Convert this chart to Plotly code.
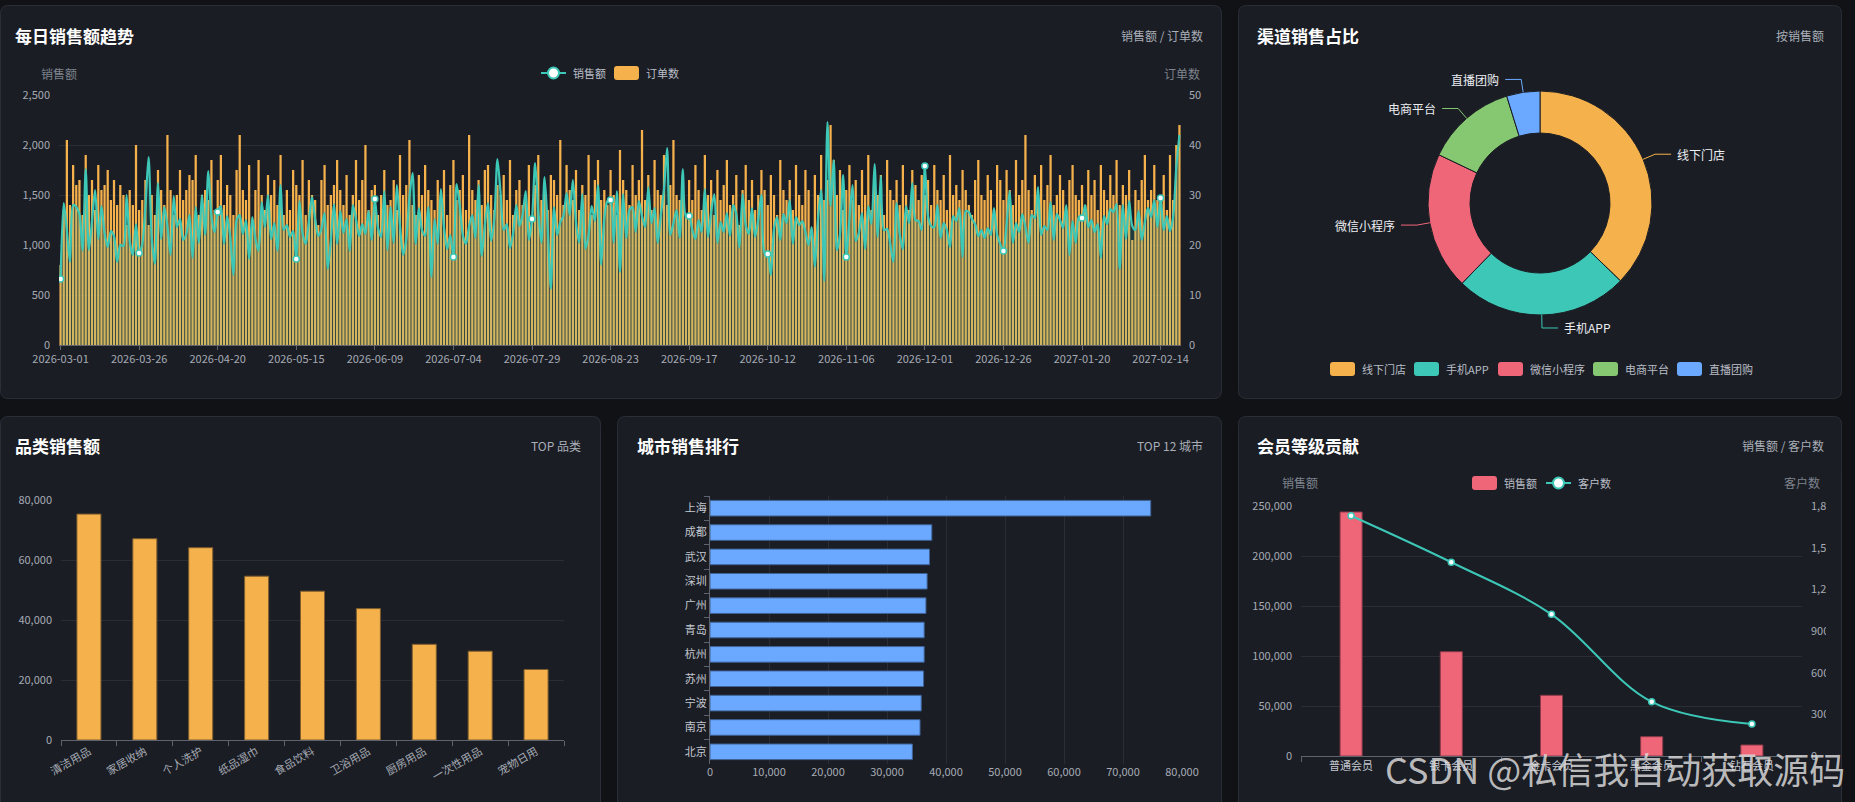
import math

import pandas as pd
import plotly.graph_objects as go

W, H = 1855, 802
FONT = "Noto Sans CJK SC"

BG = "#111216"
PANEL = "#1a1d24"
BORDER = "#2a2e37"
GRID = "#2a2d34"
AXIS = "#5f636d"
TICK = "#a6abb5"
MUTED = "#7e838d"
SUB = "#a9aeb8"

ORANGE = "#f4b14c"
TEAL = "#3dc7b7"
RED = "#ef6679"
GREEN = "#86c871"
BLUE = "#6aa9ff"

# ---- data ----
start_date = "2026-03-01"

order_counts = [
    16, 27, 41, 28, 36, 32, 33, 26, 38, 30, 33, 27, 36, 31, 32, 35, 29, 33, 28, 32, 30, 24, 31, 28, 40,
    27, 29, 33, 24, 30, 26, 35, 31, 28, 42, 31, 26, 30, 35, 29, 31, 34, 33, 38, 26, 30, 31, 29, 37, 27,
    33, 38, 28, 32, 30, 26, 35, 42, 31, 29, 36, 25, 31, 37, 30, 27, 34, 30, 33, 28, 38, 26, 31, 27, 35,
    32, 30, 37, 26, 33, 30, 29, 24, 33, 36, 28, 30, 32, 37, 31, 28, 34, 26, 30, 37, 29, 33, 40, 27, 31,
    32, 26, 30, 35, 28, 29, 33, 27, 38, 30, 32, 41, 28, 26, 34, 30, 36, 31, 29, 27, 33, 30, 35, 26, 32,
    37, 29, 31, 34, 27, 42, 31, 29, 33, 28, 35, 36, 30, 27, 32, 30, 34, 29, 37, 26, 31, 33, 28, 30, 36,
    25, 32, 38, 29, 31, 27, 34, 33, 30, 41, 28, 36, 31, 29, 35, 27, 32, 30, 38, 26, 33, 37, 29, 31, 28,
    35, 30, 26, 39, 33, 31, 28, 36, 30, 33, 43, 29, 34, 27, 37, 31, 30, 38, 28, 32, 41, 30, 29, 34, 26,
    33, 29, 36, 31, 27, 38, 30, 33, 26, 35, 29, 32, 37, 28, 30, 34, 24, 31, 36, 29, 33, 27, 30, 35, 31,
    28, 34, 30, 26, 37, 31, 29, 33, 27, 36, 30, 28, 35, 31, 22, 34, 30, 38, 29, 33, 44, 37, 30, 35, 27,
    31, 36, 29, 33, 28, 35, 30, 38, 27, 32, 30, 34, 26, 37, 31, 29, 33, 28, 36, 30, 27, 35, 32, 29, 34,
    30, 33, 28, 36, 31, 29, 34, 27, 38, 30, 32, 29, 35, 31, 28, 26, 33, 37, 30, 29, 34, 31, 27, 36, 33,
    29, 35, 31, 28, 37, 30, 33, 42, 31, 27, 34, 30, 36, 29, 32, 38, 28, 30, 34, 31, 27, 33, 36, 30, 29,
    32, 28, 35, 30, 33, 27, 36, 31, 29, 34, 30, 37, 28, 32, 30, 35, 21, 31, 29, 33, 38, 29, 31, 36, 29,
    30, 34, 27, 38, 29, 40, 44,
]

daily_sales = [
    660, 1420, 1150, 830, 1400, 1380, 1310, 940, 1760, 950, 1240, 1550, 1060, 1390, 1120, 980, 1140, 1090, 830, 1000, 990, 1500, 1040, 900, 1210,
    920, 1010, 1390, 1880, 1080, 810, 1620, 1060, 1380, 1190, 900, 1490, 1180, 1260, 1050, 1110, 1300, 870, 1380, 1020, 1500, 1100, 1740, 1290, 1130,
    1330, 1390, 1010, 1290, 1080, 700, 1250, 1300, 1110, 1250, 860, 1280, 1060, 940, 1430, 1180, 1500, 1060, 1220, 940, 1600, 1150, 1200, 1080, 1140,
    860, 1440, 1120, 1010, 1230, 1480, 1260, 1090, 1160, 1320, 760, 1050, 1410, 1010, 1340, 1120, 1260, 940, 1400, 1260, 1090, 1210, 1110, 1340, 1050,
    1460, 1170, 1080, 1540, 950, 1380, 1020, 1600, 1190, 900, 1060, 1480, 1720, 1010, 1370, 1150, 1090, 1380, 680, 1260, 1010, 1560, 1180, 960, 1100,
    880, 1610, 1400, 1100, 1010, 1190, 1300, 1070, 1600, 890, 1200, 1420, 1040, 1260, 1860, 1520, 1150, 1210, 970, 1120, 1400, 1190, 1300, 1540, 1050,
    1260, 1820, 1340, 1020, 1680, 1180, 560, 1380, 1100, 1230, 1290, 1520, 1300, 1650, 1230, 1020, 1510, 960, 1100, 1390, 1240, 1600, 800, 1260, 1440,
    1450, 1020, 1540, 730, 1510, 1070, 1350, 1380, 1130, 1440, 1290, 1180, 1580, 1220, 1370, 1020, 1300, 1560, 1970, 1100, 1220, 1350, 1070, 1760, 1280,
    1290, 1150, 1060, 1250, 1130, 1560, 1080, 1330, 1510, 1020, 1230, 1130, 1320, 1090, 1400, 1310, 970, 1510, 1200, 1110, 1370, 1080, 1260, 1500, 920,
    910, 700, 1160, 1280, 1050, 1310, 1220, 1450, 1010, 1280, 1200, 1240, 1130, 1000, 1180, 780, 1260, 1550, 640, 2230, 1390, 1850, 950, 1110, 1700,
    880, 1260, 1600, 1040, 1120, 1320, 960, 1390, 1210, 1810, 1080, 1690, 1150, 1160, 1010, 830, 1420, 1110, 960, 1390, 1220, 1620, 1250, 1240, 1150,
    1790, 1290, 1190, 1180, 1400, 1070, 1220, 1150, 980, 1290, 1240, 1370, 880, 1340, 1330, 1260, 1210, 1090, 1150, 1070, 1170, 1100, 1370, 1100, 1010,
    940, 1210, 1540, 1020, 1220, 1130, 1310, 1180, 1020, 1300, 1270, 1580, 1100, 1190, 1150, 1430, 1050, 1310, 1250, 1170, 1400, 900, 1240, 1020, 1280,
    1270, 1400, 1180, 1250, 1130, 1210, 870, 1290, 1210, 1360, 1330, 1410, 760, 1400, 1060, 1440, 1190, 1150, 1340, 1050, 1230, 1370, 1280, 1450, 1180,
    1470, 1150, 1290, 1140, 1280, 1780, 2100,
]

channel_names = ["线下门店", "手机APP", "微信小程序", "电商平台", "直播团购"]
channel_sales = [186000, 125000, 99000, 65500, 24000]
channel_colors = [ORANGE, TEAL, RED, GREEN, BLUE]

category_names = ["清洁用品", "家居收纳", "个人洗护", "纸品湿巾", "食品饮料",
                  "卫浴用品", "厨房用品", "一次性用品", "宠物日用"]
category_sales = [75300, 67100, 64100, 54600, 49600, 43800, 31900, 29600, 23500]

city_names = ["上海", "成都", "武汉", "深圳", "广州", "青岛", "杭州", "苏州", "宁波", "南京", "北京"]
city_sales = [74700, 37600, 37200, 36800, 36600, 36300, 36300, 36200, 35800, 35600, 34300]

member_levels = ["普通会员", "银卡会员", "金卡会员", "黑金会员", "钻石会员"]
member_sales = [244000, 104300, 60700, 19300, 11000]
member_customers = [1730, 1395, 1020, 390, 230]

dates = pd.date_range(start_date, periods=len(order_counts)).strftime("%Y-%m-%d").tolist()
label_step = 25


# ---- pixel helpers ----
def px(x):
    return x / W


def py(y):
    return 1 - y / H


def pt(x, y):
    return f"{px(x):.5f},{py(y):.5f}"


def round_rect(x0, y0, x1, y1, r):
    return (f"M{pt(x0 + r, y0)} L{pt(x1 - r, y0)} Q{pt(x1, y0)} {pt(x1, y0 + r)} "
            f"L{pt(x1, y1 - r)} Q{pt(x1, y1)} {pt(x1 - r, y1)} L{pt(x0 + r, y1)} "
            f"Q{pt(x0, y1)} {pt(x0, y1 - r)} L{pt(x0, y0 + r)} Q{pt(x0, y0)} {pt(x0 + r, y0)} Z")


shapes = []
annotations = []


def panel(x0, y0, x1, y1):
    shapes.append(dict(type="path", xref="paper", yref="paper", path=round_rect(x0, y0, x1, y1, 8),
                       fillcolor=PANEL, line=dict(color=BORDER, width=1), layer="below"))


def text(x, y, s, size=12, color=SUB, anchor="left", bold=False):
    annotations.append(dict(xref="paper", yref="paper", x=px(x), y=py(y), text=f"<b>{s}</b>" if bold else s,
                            showarrow=False, xanchor=anchor, yanchor="middle",
                            font=dict(family=FONT, size=size, color=color)))


def legend_box(x, y, color, label):
    shapes.append(dict(type="path", xref="paper", yref="paper",
                       path=round_rect(x, y - 7, x + 25, y + 7, 3), fillcolor=color,
                       line=dict(width=0), layer="above"))
    text(x + 30, y, label, size=11, color="#b9bdc6")


def legend_line(x, y, color, label):
    shapes.append(dict(type="line", xref="paper", yref="paper", x0=px(x), x1=px(x + 25), y0=py(y), y1=py(y),
                       line=dict(color=color, width=2), layer="above"))
    shapes.append(dict(type="circle", xref="paper", yref="paper", x0=px(x + 7), x1=px(x + 18),
                       y0=py(y + 5.5), y1=py(y - 5.5), fillcolor="#ffffff",
                       line=dict(color=color, width=2), layer="above"))
    text(x + 30, y, label, size=11, color="#b9bdc6")


panel(0.5, 5.5, 1221.5, 398.5)
panel(1238.5, 5.5, 1841.5, 398.5)
panel(0.5, 416.5, 600.5, 812)
panel(617.5, 416.5, 1221.5, 812)
panel(1238.5, 416.5, 1841.5, 812)

# titles
text(13, 35, "每日销售额趋势", 17, "#ffffff", bold=True)
text(1205, 35, "销售额 / 订单数", 12, SUB, "right")
text(1255, 35, "渠道销售占比", 17, "#ffffff", bold=True)
text(1826, 35, "按销售额", 12, SUB, "right")
text(13, 445, "品类销售额", 17, "#ffffff", bold=True)
text(583, 445, "TOP 品类", 12, SUB, "right")
text(635, 445, "城市销售排行", 17, "#ffffff", bold=True)
text(1205, 445, "TOP 12 城市", 12, SUB, "right")
text(1255, 445, "会员等级贡献", 17, "#ffffff", bold=True)
text(1826, 445, "销售额 / 客户数", 12, SUB, "right")

# axis names and legends
text(59, 73, "销售额", 12, MUTED, "center")
text(1182, 73, "订单数", 12, MUTED, "center")
legend_line(541, 73, TEAL, "销售额")
legend_box(614, 73, ORANGE, "订单数")

text(1300, 483, "销售额", 12, MUTED, "center")
text(1802, 483, "客户数", 12, MUTED, "center")
legend_box(1472, 483, RED, "销售额")
legend_line(1546, 483, TEAL, "客户数")

pie_legend_x = [1330, 1414, 1498, 1593, 1677]
for lx, name, color in zip(pie_legend_x, channel_names, channel_colors):
    legend_box(lx, 369, color, name)

# ---- donut with leader labels ----
cx, cy, R = 1540, 203, 112
total = sum(channel_sales)
acc = 0
for name, value, color in zip(channel_names, channel_sales, channel_colors):
    mid = (acc + value / 2) / total * 2 * math.pi
    acc += value
    sx, sy = math.sin(mid), -math.cos(mid)
    x0, y0 = cx + R * sx, cy + R * sy
    x1, y1 = cx + (R + 13) * sx, cy + (R + 13) * sy
    side = 1 if sx >= 0 else -1
    x2 = x1 + side * 16
    shapes.append(dict(type="path", xref="paper", yref="paper",
                       path=f"M{pt(x0, y0)} L{pt(x1, y1)} L{pt(x2, y1)}",
                       line=dict(color=color, width=1), layer="above"))
    text(x2 + side * 4, y1, name, 12, "#eceef2", "left" if side > 0 else "right")

# clip the overflowing right axis labels of the member chart
shapes.append(dict(type="rect", xref="paper", yref="paper", x0=px(1826), x1=px(1841), y0=py(800), y1=py(470),
                   fillcolor=PANEL, line=dict(width=0), layer="above"))

# watermark
text(1383, 768, "CSDN @私信我自动获取源码", 36, "rgba(222,222,222,0.82)")

fig = go.Figure()

# daily trend
fig.add_trace(go.Bar(x=dates, y=order_counts, xaxis="x", yaxis="y", width=0.72,
                     marker=dict(color=ORANGE, line=dict(width=0)), showlegend=False))
fig.add_trace(go.Scatter(x=dates, y=daily_sales, xaxis="x", yaxis="y2", mode="lines",
                         line=dict(color=TEAL, width=2.2, shape="spline", smoothing=0.8),
                         fill="tozeroy", fillcolor="rgba(61,199,183,0.18)", showlegend=False))
fig.add_trace(go.Scatter(x=dates[::label_step], y=daily_sales[::label_step], xaxis="x", yaxis="y2",
                         mode="markers", marker=dict(size=6, color="#ffffff", line=dict(color=TEAL, width=1.5)),
                         showlegend=False))

# donut
fig.add_trace(go.Pie(labels=channel_names, values=channel_sales, hole=0.625, sort=False,
                     direction="clockwise", rotation=0, textinfo="none",
                     marker=dict(colors=channel_colors, line=dict(color=PANEL, width=1)),
                     domain=dict(x=[px(cx - R), px(cx + R)], y=[py(cy + R), py(cy - R)]),
                     showlegend=False))

# category bars
fig.add_trace(go.Bar(x=category_names, y=category_sales, xaxis="x2", yaxis="y3", width=0.43,
                     marker=dict(color=ORANGE, line=dict(color="#7d5c2f", width=1)), showlegend=False))

# city bars
fig.add_trace(go.Bar(x=city_sales, y=city_names, orientation="h", xaxis="x3", yaxis="y4", width=0.64,
                     marker=dict(color=BLUE, line=dict(color="#3f6296", width=1)), showlegend=False))

# member bars + line
fig.add_trace(go.Bar(x=member_levels, y=member_sales, xaxis="x4", yaxis="y5", width=0.22,
                     marker=dict(color=RED, line=dict(color="#8a3a48", width=1)), showlegend=False))
fig.add_trace(go.Scatter(x=member_levels, y=member_customers, xaxis="x4", yaxis="y6", mode="lines+markers",
                         line=dict(color=TEAL, width=2, shape="spline", smoothing=1),
                         marker=dict(size=6, color="#ffffff", line=dict(color=TEAL, width=1.5)),
                         showlegend=False))

tickfont = dict(family=FONT, size=11, color=TICK)
value_axis = dict(showgrid=True, gridcolor=GRID, gridwidth=1, zeroline=False, showline=False,
                  ticks="", tickfont=tickfont, tickformat=",", fixedrange=True, automargin=False)
cat_axis = dict(type="category", showgrid=False, zeroline=False, showline=True, linecolor=AXIS,
                ticks="outside", ticklen=5, tickcolor=AXIS, tickfont=tickfont, fixedrange=True,
                automargin=False)

fig.update_layout(
    width=W, height=H, margin=dict(l=0, r=0, t=0, b=0, pad=0, autoexpand=False),
    paper_bgcolor=BG, plot_bgcolor="rgba(0,0,0,0)",
    font=dict(family=FONT, color=TICK), barmode="overlay", showlegend=False,
    shapes=shapes, annotations=annotations,
    xaxis=dict(cat_axis, domain=[px(59), px(1181)], anchor="y", tickvals=dates[::label_step],
               ticktext=dates[::label_step], ticklen=4, range=[-0.5, len(dates) - 0.5]),
    yaxis=dict(value_axis, domain=[py(345), py(95)], anchor="x", side="right", range=[0, 50], dtick=10,
               ticklabelstandoff=7),
    yaxis2=dict(value_axis, overlaying="y", anchor="x", side="left", range=[0, 2500], dtick=500,
                showgrid=False, ticklabelstandoff=8),
    xaxis2=dict(cat_axis, domain=[px(61), px(564)], anchor="y3", tickangle=-30, tickson="boundaries"),
    yaxis3=dict(value_axis, domain=[py(740), py(500)], anchor="x2", range=[0, 80000], dtick=20000,
                ticklabelstandoff=8),
    xaxis3=dict(value_axis, domain=[px(710), px(1182)], anchor="y4", range=[0, 80000], dtick=10000),
    yaxis4=dict(cat_axis, domain=[py(764), py(496)], anchor="x3", autorange="reversed",
                tickson="boundaries", tickfont=dict(family=FONT, size=11, color="#c4c8d0")),
    xaxis4=dict(cat_axis, domain=[px(1301), px(1802)], anchor="y5", tickson="boundaries",
                tickfont=dict(family=FONT, size=11, color="#c4c8d0")),
    yaxis5=dict(value_axis, domain=[py(756), py(506)], anchor="x4", range=[0, 250000], dtick=50000,
                ticklabelstandoff=8),
    yaxis6=dict(value_axis, overlaying="y5", anchor="x4", side="right", range=[0, 1800], dtick=300,
                showgrid=False, ticklabelstandoff=8),
)

fig.write_html("out.html", config={"displayModeBar": False},
               post_script="document.body.style.margin='0';document.body.style.background='#111216';")
